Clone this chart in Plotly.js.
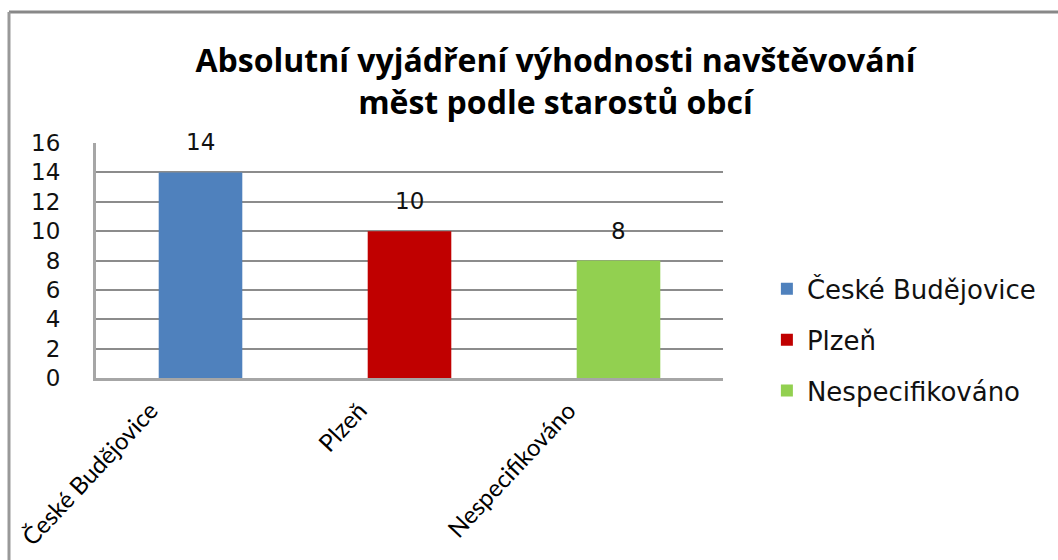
<!DOCTYPE html>
<html>
<head>
<meta charset="utf-8">
<script src="https://cdn.plot.ly/plotly-3.0.1.min.js"></script>
<style>html,body{margin:0;padding:0;background:#fff;}#chart{width:1058px;height:560px;}</style>
</head>
<body>
<div id="chart"></div>
<script>
const categories = ["České Budějovice", "Plzeň", "Nespecifikováno"];
const values = [14, 10, 8];
const colors = ["#4F81BD", "#C00000", "#92D050"];
const yTicks = [0, 2, 4, 6, 8, 10, 12, 14, 16];
const titleText = "Absolutní vyjádření výhodnosti navštěvování<br>měst podle starostů obcí";

const traces = categories.map((c, i) => ({
  type: "bar",
  name: c,
  x: [c],
  y: [values[i]],
  marker: {color: colors[i]},
  width: 0.4,
  legendgroup: "g" + i,
  hoverinfo: "x+y"
}));

const annotations = categories.map((c, i) => ({
  x: c, y: values[i], xref: "x", yref: "y",
  text: String(values[i]), showarrow: false,
  yanchor: "bottom", yshift: 15,
  font: {family: "DejaVu Sans", size: 23, color: "#111"}
}));

const layout = {
  width: 1058, height: 560,
  margin: {l: 96, r: 335, t: 143, b: 182},
  paper_bgcolor: "#ffffff",
  plot_bgcolor: "#ffffff",
  title: {
    text: titleText,
    x: 0.525, xanchor: "center",
    y: 1 - 72/560, yanchor: "top",
    font: {family: "Open Sans", size: 32, color: "#000", weight: "bold"}
  },
  bargap: 0.6,
  showlegend: true,
  legend: {
    x: 1.07, xanchor: "left", y: 0.162, yanchor: "middle",
    font: {family: "DejaVu Sans", size: 26, color: "#111"},
    tracegroupgap: 14,
    bgcolor: "rgba(0,0,0,0)"
  },
  xaxis: {
    type: "category",
    tickangle: -47,
    tickfont: {family: "Lato", size: 24, color: "#000"},
    showline: true, linecolor: "#a6a6a6", linewidth: 3,
    ticks: "", showgrid: false,
    ticklabelshift: -50,
    ticklabelstandoff: 6,
    fixedrange: true
  },
  yaxis: {
    range: [0, 16],
    tickvals: yTicks,
    ticktext: yTicks.map(String),
    tickfont: {family: "DejaVu Sans", size: 23, color: "#111"},
    showline: true, linecolor: "#a6a6a6", linewidth: 3,
    showgrid: true, gridcolor: "#8c8c8c", gridwidth: 2,
    zeroline: false,
    ticks: "",
    ticklabelstandoff: 28,
    fixedrange: true
  },
  annotations: annotations,
  shapes: [
    {type: "line", xref: "paper", yref: "paper", x0: (9-96)/627, x1: (1070-96)/627, y0: 1 + (143-12)/235, y1: 1 + (143-12)/235, line: {color: "#888888", width: 3}},
    {type: "line", xref: "paper", yref: "paper", x0: (9-96)/627, x1: (9-96)/627, y0: 1 + (143-12)/235, y1: (378-600)/235, line: {color: "#999999", width: 3}}
  ]
};

Plotly.newPlot("chart", traces, layout, {displayModeBar: false, staticPlot: true});
</script>
</body>
</html>
